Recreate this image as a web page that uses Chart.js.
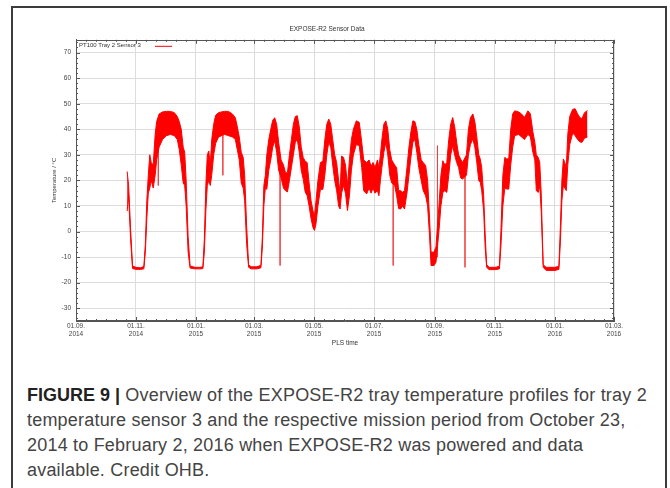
<!DOCTYPE html>
<html>
<head>
<meta charset="utf-8">
<script src="https://cdn.jsdelivr.net/npm/chart.js@4.4.1/dist/chart.umd.min.js"></script>
<style>
  body { margin: 0; background: #fff; width: 670px; height: 488px; overflow: hidden; position: relative; }
  #frame { position: absolute; left: 11px; top: 6px; width: 656px; height: 500px; border: 2px solid #3c3c3c; box-sizing: border-box; }
  #c { position: absolute; left: 0; top: 0; }
  #caption { position: absolute; left: 27px; top: 383px; font: 18px "Liberation Sans", Arial, sans-serif; letter-spacing: 0.2px; color: #444; line-height: 25px; white-space: nowrap; }
  #caption b { color: #222; letter-spacing: 0; }
</style>
</head>
<body>
<div id="frame"></div>
<canvas id="c" width="670" height="360"></canvas>
<div id="caption"><b>FIGURE 9 |</b> Overview of the EXPOSE-R2 tray temperature profiles for tray 2<br>temperature sensor 3 and the respective mission period from October 23,<br>2014 to February 2, 2016 when EXPOSE-R2 was powered and data<br>available. Credit OHB.</div>
<script>
// days counted from 01.09.2014
const xTickDays = [0, 61, 122, 181, 242, 303, 365, 426, 487, 547];
const xTickLabels = [["01.09.", "2014"], ["01.11.", "2014"], ["01.01.", "2015"], ["01.03.", "2015"], ["01.05.", "2015"],
  ["01.07.", "2015"], ["01.09.", "2015"], ["01.11.", "2015"], ["01.01.", "2016"], ["01.03.", "2016"]];
const yTicks = [-30, -20, -10, 0, 10, 20, 30, 40, 50, 60, 70];

// envelope of the orbital oscillation: lower and upper temperature (°C)
const bandDays = [52, 53.5, 55.5, 57.5, 61, 66, 69, 70.5, 72, 73.5, 75, 76.5, 78.5, 80.5, 82, 84.5, 88, 92, 96, 100,
  103, 105, 107, 109, 110.5, 112, 114, 116, 121, 126, 129, 130.5, 132, 133.5, 135, 136.5, 138, 140, 142, 145,
  148, 151, 155, 159, 162, 164, 166, 168, 170, 171.5, 173.5, 175.5, 178, 184, 188, 189.5, 191, 192.5, 194, 196,
  198, 200, 202, 204, 206, 208.5, 211, 213, 215, 217, 219, 221, 223, 225, 227, 229, 231, 233, 235, 237,
  239, 241, 242.5, 244, 246, 248.5, 251, 253, 255, 257, 259, 261, 263, 265, 267, 268.5, 270, 272, 274, 276,
  278, 280, 282, 285, 288, 290.5, 292.5, 295.5, 298, 300, 302, 304, 306.5, 308, 309.5, 311, 313, 315, 317, 319,
  321, 324, 326, 328, 330, 332, 334, 336.5, 338.5, 340.5, 342.5, 344.5, 346.5, 348.5, 351, 353, 355.5, 357.5, 359.5, 361,
  364, 366, 369, 371, 373, 375, 377, 379, 381, 383, 385, 387, 389, 391, 393, 397, 399, 401, 403.5, 405.5,
  407.5, 409.5, 411, 412.5, 414.5, 416, 417.5, 420, 427, 430.5, 432, 434, 436, 438, 440, 442, 444, 446, 450, 453,
  456, 459.5, 462, 464.5, 466.5, 468, 470, 471.5, 473, 475, 478, 487, 491, 492.5, 494, 495.5, 497, 498.5, 500, 502,
  505, 507.5, 510, 512.5, 514.5, 517, 520];
const bandLow = [8, 14, -3, -14.5, -14.8, -14.8, -14.6, -8, 5, 15, 17, 20, 17, 22, 28, 33, 36, 37.5, 38, 37.5,
  36, 32, 26, 19, 18, 10, -8, -14.3, -14.6, -14.6, -14.5, -8, 8, 18, 20, 18, 22, 30, 34.5, 37,
  37.5, 38, 37.5, 37, 36, 32, 28, 19, 17, 12, -5, -14, -14.6, -14.6, -14.2, -6, 10, 17, 16.5, 24,
  28, 33, 35.5, 31, 24, 21, 17, 16, 15.5, 20, 25, 30, 35, 36, 31, 24, 20.5, 15.5, 14, 10,
  5, 1.5, 0.4, 3, 10, 16.5, 16.5, 22, 30, 35, 33, 26, 20, 16, 10, 8.8, 15, 18, 15, 8.2,
  14, 24, 30, 34, 33.6, 25, 16, 14.7, 17, 15, 17, 15, 16, 14, 20, 25, 31, 34.9, 30, 22,
  19, 18, 14, 9, 8.8, 10, 8.8, 15, 22, 29, 35, 36, 31, 25, 20, 16, 14, 10, -2, -13.3,
  -13.3, -12, 0, 10, 15.3, 16, 15.3, 22, 30, 33.6, 30, 27, 25, 21, 20.5, 22, 30, 34, 36.2, 33,
  27, 20, 19.3, 16, 8, -6, -14, -14.9, -14.9, -14.6, -6, 10, 17, 16.6, 16.6, 26, 33, 37.5, 38, 37,
  36, 38, 37, 31, 28, 16, 15.3, 18, 8, -14, -15.2, -15.2, -14.8, -4, 12, 18, 17, 16, 26, 34,
  38.5, 37.5, 36, 35, 34.9, 36.5, 37];
const bandHigh = [23.5, 18, 1, -13.5, -14, -14.2, -13.6, -5, 12, 22, 30, 27, 26, 38, 43, 46, 46.8, 47, 47, 46.5,
  45, 43, 40, 33, 31, 20, -2, -13.5, -14, -14, -13.8, -3, 18, 30, 31.5, 26, 36, 42, 45.5, 46.5,
  46.8, 47, 47, 46, 44.5, 41, 37, 31, 29, 22, 2, -13, -13.8, -13.8, -13.2, -2, 18, 22, 30, 36,
  40, 43.5, 44.5, 42, 35, 28, 26, 23, 23, 30, 36, 42, 45, 45.3, 41, 33, 29, 27.5, 27, 19,
  12, 8, 6.2, 12, 20, 27, 27.5, 36, 42, 44, 42, 36, 30, 27, 20, 15, 29.5, 29, 26, 18,
  28, 36, 40, 43.3, 42.7, 35, 28, 27, 28, 25.5, 27, 25, 28, 25, 30, 36, 42, 43.3, 40, 32,
  28, 26, 25, 16, 16, 15.4, 16, 25, 33, 39, 43.3, 43, 40, 34, 28, 27, 25.8, 20, 5, -8,
  -8.1, -6, 10, 22, 27.7, 26, 27, 36, 42, 44.6, 41, 35, 30, 28.4, 27, 30, 40, 44.5, 46, 43,
  37, 30, 28.4, 25, 14, -1, -13, -14, -14, -13.5, 0, 22, 29, 28.4, 28.5, 40, 46, 47.2, 46.8, 46,
  44.6, 47.2, 46, 39, 35, 30, 29, 27, 15, -13, -14, -14, -13.6, 2, 20, 28.4, 27, 25, 38, 45,
  47.8, 48, 46, 44.5, 44.2, 46.5, 47.3];

// short single-sample drop-outs
const spikeDays = [83.7, 149.3, 207.5, 322.5, 367.5, 395.5];
const spikeLow = [18, 22, -13.3, -13.3, -10, -14];
const spikeHigh = [44, 46, 28, 26, 33.6, 27];

const RED = "#ff0000";
const FONT = "'Liberation Sans', Arial, sans-serif";

const spikeData = [];
spikeDays.forEach((d, i) => {
  spikeData.push({ x: d, y: spikeHigh[i] }, { x: d, y: spikeLow[i] }, { x: d, y: null });
});

// gnuplot style box: border, inward major/minor tics, inside legend
const gnuplotFrame = {
  id: "gnuplotFrame",
  afterDatasetsDraw(chart) {
    const { ctx, chartArea: a, scales: { x, y } } = chart;
    ctx.save();
    ctx.strokeStyle = "#555";
    ctx.lineWidth = 1;
    ctx.beginPath();
    const vTick = (v, len) => {
      const px = Math.round(x.getPixelForValue(v)) + 0.5;
      ctx.moveTo(px, a.bottom); ctx.lineTo(px, a.bottom - len);
      ctx.moveTo(px, a.top); ctx.lineTo(px, a.top + len);
    };
    const hTick = (v, len) => {
      const py = Math.round(y.getPixelForValue(v)) + 0.5;
      ctx.moveTo(a.left, py); ctx.lineTo(a.left + len, py);
      ctx.moveTo(a.right, py); ctx.lineTo(a.right - len, py);
    };
    xTickDays.forEach((d, i) => {
      vTick(d, 4);
      if (i < xTickDays.length - 1) {
        const step = (xTickDays[i + 1] - d) / 6;
        for (let k = 1; k < 6; k++) vTick(d + step * k, 2);
      }
    });
    for (let v = -34; v <= 74; v += 2) hTick(v, v % 10 === 0 ? 4 : 2);
    ctx.stroke();
    ctx.strokeRect(Math.round(a.left) + 0.5, Math.round(a.top) + 0.5, Math.round(a.width) - 1, Math.round(a.height) - 1);

    // legend
    ctx.fillStyle = "#333";
    ctx.font = "6px " + FONT;
    ctx.textBaseline = "middle";
    ctx.fillText("PT100 Tray 2 Sensor 3", a.left + 3, a.top + 6);
    ctx.strokeStyle = RED;
    ctx.beginPath();
    ctx.moveTo(a.left + 79, a.top + 6.5);
    ctx.lineTo(a.left + 96, a.top + 6.5);
    ctx.stroke();
    ctx.restore();
  }
};

new Chart(document.getElementById("c"), {
  type: "line",
  data: {
    datasets: [
      {
        label: "upper",
        data: bandDays.map((d, i) => ({ x: d, y: bandHigh[i] })),
        borderColor: RED, borderWidth: 1, pointRadius: 0, tension: 0, fill: false
      },
      {
        label: "lower",
        data: bandDays.map((d, i) => ({ x: d, y: bandLow[i] })),
        borderColor: RED, borderWidth: 1, pointRadius: 0, tension: 0,
        fill: "-1", backgroundColor: RED
      },
      {
        label: "spikes",
        data: spikeData,
        borderColor: "#f04040", borderWidth: 0.8, pointRadius: 0, spanGaps: false, fill: false
      }
    ]
  },
  options: {
    responsive: false,
    animation: false,
    layout: { padding: { left: 40, right: 56, top: 0, bottom: 9 } },
    plugins: {
      legend: { display: false },
      tooltip: { enabled: false },
      title: {
        display: true, text: "EXPOSE-R2 Sensor Data", color: "#333",
        font: { size: 6.5, family: FONT, weight: "normal" },
        padding: { top: 25, bottom: 7 }
      }
    },
    scales: {
      x: {
        type: "linear", min: 0, max: 547,
        afterBuildTicks: (s) => { s.ticks = xTickDays.map((v) => ({ value: v })); },
        afterFit: (s) => { s.height = 30; },
        ticks: {
          autoSkip: false, maxRotation: 0, padding: 2, color: "#444",
          font: { size: 6.5, family: FONT, lineHeight: 1.1 },
          callback: (v, i) => xTickLabels[i]
        },
        grid: { color: "#dcdcdc", drawTicks: false },
        border: { color: "#555" },
        title: {
          display: true, text: "PLS time", color: "#333",
          font: { size: 6.5, family: FONT }, padding: { top: 0, bottom: 4 }
        }
      },
      y: {
        min: -35, max: 75,
        afterBuildTicks: (s) => { s.ticks = yTicks.map((v) => ({ value: v })); },
        afterFit: (s) => { s.width = 36; },
        ticks: { padding: 5, color: "#444", font: { size: 6.5, family: FONT } },
        grid: { color: "#dcdcdc", drawTicks: false },
        border: { color: "#555" },
        title: {
          display: true, text: "Temperature / °C", color: "#333",
          font: { size: 6, family: FONT }, padding: { top: 11, bottom: 0 }
        }
      }
    }
  },
  plugins: [gnuplotFrame]
});
</script>
</body>
</html>
